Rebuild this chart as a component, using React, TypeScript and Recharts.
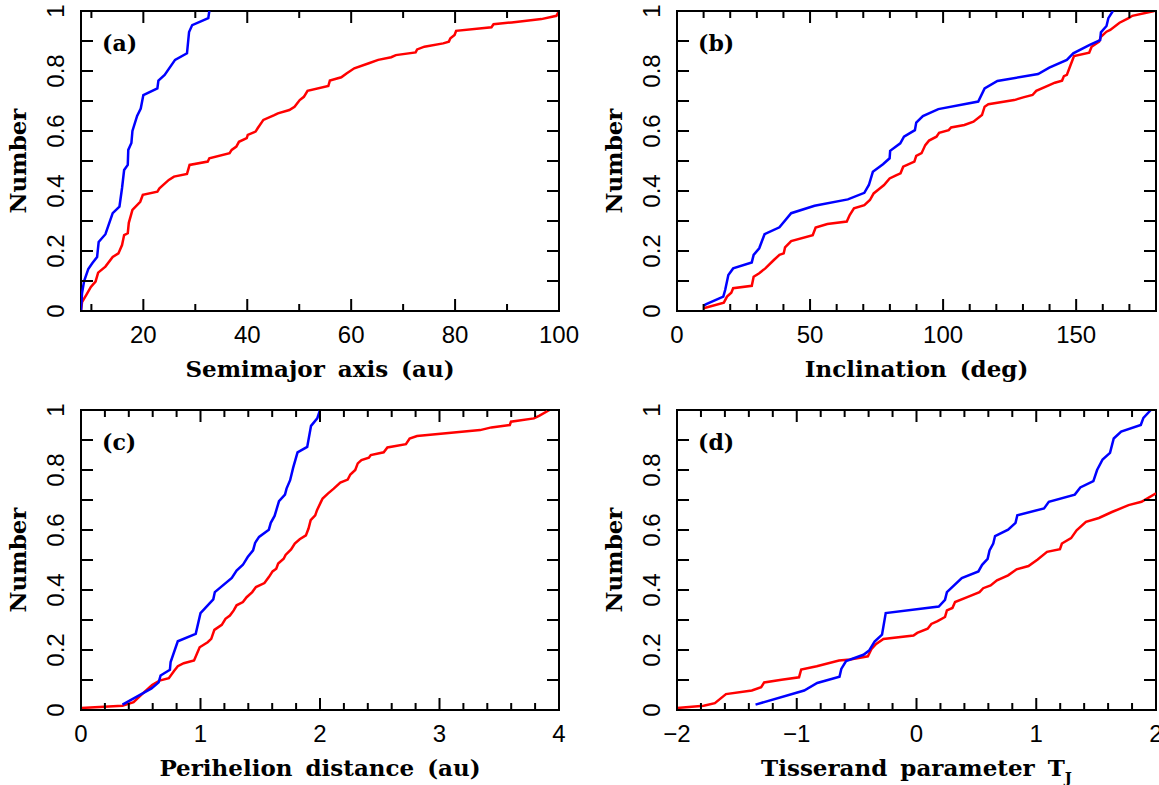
import { LineChart, Line, XAxis, YAxis, ReferenceArea } from 'recharts'

type Pt = [number, number]

// cumulative fractions, [x, fraction]
const semiBlue: Pt[] = [
  [8, 0], [8.2, 0.06], [8.6, 0.1], [9.4, 0.14], [10.2, 0.16], [11.1, 0.18], [11.4, 0.23],
  [12.7, 0.256], [14.1, 0.326], [15.4, 0.348], [15.9, 0.41], [16.3, 0.47], [17.0, 0.487],
  [17.1, 0.537], [17.7, 0.56], [17.9, 0.6], [18.8, 0.65], [19.5, 0.675], [20.0, 0.72],
  [22.7, 0.742], [22.9, 0.768], [24.1, 0.787], [26.1, 0.837], [28.4, 0.859], [28.8, 0.93],
  [29.4, 0.953], [32.5, 0.976], [32.7, 1],
]
const semiRed: Pt[] = [
  [8, 0], [8.2, 0.03], [9.0, 0.053], [9.9, 0.08], [10.8, 0.098], [11.3, 0.128], [12.7, 0.148],
  [14.1, 0.18], [15.2, 0.192], [15.9, 0.22], [16.3, 0.253], [17.0, 0.259], [17.2, 0.294],
  [17.9, 0.337], [19.4, 0.364], [19.9, 0.387], [22.7, 0.398], [23.1, 0.409], [24.9, 0.437],
  [25.9, 0.448], [28.4, 0.457], [28.9, 0.487], [32.4, 0.498], [32.7, 0.509], [36.6, 0.526],
  [37.0, 0.537], [37.9, 0.548], [38.4, 0.564], [39.9, 0.576], [40.1, 0.587], [41.6, 0.598],
  [42.0, 0.609], [43.1, 0.637], [45.2, 0.653], [45.9, 0.659], [48.1, 0.67], [49.1, 0.681],
  [50.1, 0.703], [50.9, 0.714], [51.6, 0.734], [55.6, 0.75], [55.9, 0.768], [58.1, 0.779],
  [59.1, 0.792], [60.6, 0.809], [63.4, 0.826], [65.2, 0.837], [67.7, 0.846], [68.6, 0.853],
  [72.4, 0.862], [72.7, 0.872], [74.1, 0.881], [77.7, 0.892], [78.8, 0.898], [79.1, 0.909],
  [79.9, 0.92], [80.2, 0.934], [87.0, 0.946], [87.4, 0.956], [90.9, 0.962], [96.6, 0.973],
  [99.5, 0.984], [100, 1],
]
const incBlue: Pt[] = [
  [10, 0.018], [11, 0.023], [17.4, 0.048], [18.1, 0.07], [19.3, 0.12], [21.1, 0.142],
  [28.1, 0.162], [28.8, 0.187], [30.9, 0.209], [32.9, 0.256], [38.5, 0.279], [42.9, 0.326],
  [51.7, 0.351], [64.2, 0.372], [70.4, 0.394], [72.1, 0.42], [73.6, 0.464], [77.4, 0.489],
  [79.9, 0.509], [80.1, 0.534], [83.9, 0.559], [85.3, 0.581], [89.4, 0.603], [89.9, 0.628],
  [92.4, 0.65], [98.2, 0.673], [113.2, 0.698], [115.6, 0.742], [120.4, 0.767], [135.7, 0.79],
  [139.9, 0.811], [146.5, 0.837], [148.9, 0.859], [155.1, 0.887], [159, 0.903], [159.3, 0.929],
  [161.4, 0.95], [162.1, 0.976], [163.8, 1],
]
const incRed: Pt[] = [
  [10, 0.009], [17.6, 0.028], [18.8, 0.048], [20.4, 0.061], [21.1, 0.076], [28.1, 0.084],
  [28.8, 0.114], [30.9, 0.126], [33.2, 0.142], [36.4, 0.17], [38.5, 0.187], [40.1, 0.192],
  [40.6, 0.212], [42.9, 0.233], [51, 0.253], [52.1, 0.278], [56.5, 0.29], [63.8, 0.298],
  [64.9, 0.32], [66.5, 0.342], [70.4, 0.353], [72.5, 0.37], [73.9, 0.392], [76.3, 0.409],
  [77.8, 0.42], [79.9, 0.442], [82.5, 0.453], [84, 0.459], [85, 0.481], [89.2, 0.498],
  [89.9, 0.517], [91.9, 0.526], [93.3, 0.553], [94.7, 0.568], [97.5, 0.581], [98.5, 0.594],
  [102.1, 0.603], [103, 0.612], [108, 0.62], [111.4, 0.631], [114.6, 0.653], [115.6, 0.681],
  [117, 0.689], [126.7, 0.703], [130.1, 0.712], [133.6, 0.72], [135, 0.734], [139.9, 0.753],
  [142, 0.761], [144.7, 0.768], [145.4, 0.783], [146.5, 0.787], [147.9, 0.82], [149.2, 0.85],
  [154.9, 0.861], [155.8, 0.881], [158.6, 0.898], [159.3, 0.914], [161.4, 0.931],
  [162.8, 0.937], [166.3, 0.961], [169.7, 0.976], [171.1, 0.984], [179.4, 1],
]
const periBlue: Pt[] = [
  [0.347, 0.018], [0.52, 0.056], [0.59, 0.072], [0.65, 0.092], [0.666, 0.115], [0.744, 0.134],
  [0.75, 0.16], [0.81, 0.229], [0.96, 0.254], [1.0, 0.323], [1.107, 0.369], [1.12, 0.393],
  [1.262, 0.44], [1.302, 0.465], [1.355, 0.484], [1.395, 0.51], [1.44, 0.532], [1.457, 0.557],
  [1.49, 0.577], [1.572, 0.601], [1.588, 0.624], [1.62, 0.647], [1.657, 0.696], [1.707, 0.718],
  [1.72, 0.738], [1.75, 0.766], [1.775, 0.807], [1.812, 0.859], [1.893, 0.877], [1.925, 0.947],
  [1.977, 0.972], [2.0, 1],
]
const periRed: Pt[] = [
  [0, 0.007], [0.347, 0.014], [0.44, 0.026], [0.52, 0.056], [0.595, 0.083], [0.657, 0.098],
  [0.735, 0.106], [0.78, 0.131], [0.81, 0.146], [0.86, 0.156], [0.946, 0.165], [0.993, 0.209],
  [1.06, 0.226], [1.09, 0.237], [1.116, 0.267], [1.178, 0.284], [1.209, 0.304], [1.246, 0.315],
  [1.278, 0.332], [1.302, 0.349], [1.355, 0.36], [1.386, 0.376], [1.433, 0.393], [1.464, 0.41],
  [1.535, 0.423], [1.572, 0.443], [1.603, 0.462], [1.634, 0.471], [1.65, 0.488], [1.696, 0.504],
  [1.712, 0.517], [1.758, 0.535], [1.789, 0.555], [1.83, 0.569], [1.882, 0.582], [1.904, 0.605],
  [1.922, 0.633], [1.96, 0.649], [1.975, 0.666], [2.006, 0.692], [2.022, 0.705], [2.068, 0.722],
  [2.115, 0.738], [2.17, 0.758], [2.232, 0.768], [2.254, 0.785], [2.295, 0.8], [2.316, 0.822],
  [2.347, 0.833], [2.409, 0.841], [2.425, 0.85], [2.533, 0.859], [2.564, 0.875], [2.719, 0.886],
  [2.75, 0.905], [2.812, 0.913], [3.34, 0.933], [3.434, 0.942], [3.588, 0.95], [3.598, 0.961],
  [3.79, 0.972], [3.837, 0.981], [3.92, 1],
]
const tissBlue: Pt[] = [
  [-1.344, 0.018], [-0.938, 0.065], [-0.829, 0.09], [-0.643, 0.111], [-0.628, 0.137],
  [-0.588, 0.163], [-0.443, 0.184], [-0.396, 0.198], [-0.35, 0.228], [-0.288, 0.251],
  [-0.257, 0.323], [0.186, 0.345], [0.238, 0.367], [0.254, 0.393], [0.378, 0.44], [0.517, 0.462],
  [0.548, 0.484], [0.594, 0.504], [0.61, 0.532], [0.641, 0.555], [0.656, 0.58], [0.765, 0.601],
  [0.827, 0.624], [0.842, 0.649], [1.065, 0.672], [1.105, 0.694], [1.322, 0.718], [1.368, 0.742],
  [1.477, 0.763], [1.508, 0.8], [1.554, 0.835], [1.616, 0.857], [1.647, 0.905], [1.709, 0.928],
  [1.873, 0.95], [1.895, 0.974], [1.957, 1],
]
const tissRed: Pt[] = [
  [-2, 0.007], [-1.777, 0.014], [-1.684, 0.023], [-1.591, 0.053], [-1.375, 0.065],
  [-1.297, 0.076], [-1.272, 0.092], [-1.127, 0.101], [-0.981, 0.109], [-0.963, 0.135],
  [-0.833, 0.146], [-0.647, 0.165], [-0.554, 0.168], [-0.406, 0.179], [-0.375, 0.204],
  [-0.337, 0.22], [-0.276, 0.237], [-0.025, 0.248], [0.006, 0.257], [0.093, 0.271],
  [0.124, 0.287], [0.176, 0.296], [0.238, 0.31], [0.254, 0.332], [0.3, 0.34], [0.322, 0.36],
  [0.424, 0.376], [0.526, 0.393], [0.557, 0.406], [0.619, 0.415], [0.672, 0.432], [0.765, 0.449],
  [0.836, 0.469], [0.935, 0.48], [1.012, 0.502], [1.09, 0.527], [1.198, 0.536], [1.214, 0.555],
  [1.291, 0.573], [1.337, 0.599], [1.415, 0.627], [1.523, 0.64], [1.632, 0.66], [1.771, 0.683],
  [1.879, 0.694], [2.0, 0.722],
]

// ticks and their labels
const fracTicks = [0, 0.1, 0.2, 0.3, 0.4, 0.5, 0.6, 0.7, 0.8, 0.9, 1]
const fracLabels: Record<string, string> = { '0': '0', '0.2': '0.2', '0.4': '0.4', '0.6': '0.6', '0.8': '0.8', '1': '1' }
const semiTicks = [10, 20, 30, 40, 50, 60, 70, 80, 90, 100]
const semiLabels: Record<string, string> = { '20': '20', '40': '40', '60': '60', '80': '80', '100': '100' }
const incTicks = [0, 10, 20, 30, 40, 50, 60, 70, 80, 90, 100, 110, 120, 130, 140, 150, 160, 170, 180]
const incLabels: Record<string, string> = { '0': '0', '50': '50', '100': '100', '150': '150' }
const periTicks = [0, 0.2, 0.4, 0.6, 0.8, 1, 1.2, 1.4, 1.6, 1.8, 2, 2.2, 2.4, 2.6, 2.8, 3, 3.2, 3.4, 3.6, 3.8, 4]
const periLabels: Record<string, string> = { '0': '0', '1': '1', '2': '2', '3': '3', '4': '4' }
const tissTicks = [-2, -1.8, -1.6, -1.4, -1.2, -1, -0.8, -0.6, -0.4, -0.2, 0, 0.2, 0.4, 0.6, 0.8, 1, 1.2, 1.4, 1.6, 1.8, 2]
const tissLabels: Record<string, string> = { '-2': '\u22122', '-1': '\u22121', '0': '0', '1': '1', '2': '2' }

const toRows = (pts: Pt[]) => pts.map(([x, y]) => ({ x, y }))

const TICK_FONT = 'Liberation Sans, Arial, sans-serif'
const TITLE_FONT = 'DejaVu Serif, serif'

type PanelProps = {
  left: number
  top: number
  width: number
  height: number
  plotLeft: number
  plotTop: number
  plotW: number
  plotH: number
  xDomain: [number, number]
  xTicks: number[]
  xLabels: Record<string, string>
  blue: Pt[]
  red: Pt[]
  tag: string
  title: React.ReactNode
}

function Panel(p: PanelProps) {
  const { plotLeft, plotTop, plotW, plotH, width, height } = p
  const [d0, d1] = p.xDomain
  // same linear mapping as the chart, for the inward frame ticks
  const sx = (v: number) => plotLeft + ((v - d0) / (d1 - d0)) * plotW
  const sy = (v: number) => plotTop + plotH - v * plotH
  const bottom = plotTop + plotH
  let tickPath = ''
  p.xTicks.forEach((v) => {
    const len = p.xLabels[String(v)] !== undefined ? 12 : 7
    const x = sx(v)
    tickPath += `M${x},${bottom}V${bottom - len}M${x},${plotTop}V${plotTop + len}`
  })
  fracTicks.forEach((v) => {
    const y = sy(v)
    tickPath += `M${plotLeft},${y}H${plotLeft + 12}M${plotLeft + plotW},${y}H${plotLeft + plotW - 12}`
  })

  const xTick = (t: any) => {
    const lab = p.xLabels[String(t.payload.value)]
    if (lab === undefined) return <g />
    return (
      <text x={t.x} y={t.y + 32} textAnchor="middle" fontFamily={TICK_FONT} fontSize={24} fill="#000">
        {lab}
      </text>
    )
  }
  const yTick = (t: any) => {
    const lab = fracLabels[String(t.payload.value)]
    if (lab === undefined) return <g />
    return (
      <text
        x={0}
        y={0}
        transform={`translate(${t.x - 17},${t.y}) rotate(-90)`}
        textAnchor="middle"
        fontFamily={TICK_FONT}
        fontSize={24}
        fill="#000"
      >
        {lab}
      </text>
    )
  }

  return (
    <div style={{ position: 'absolute', left: p.left, top: p.top, width, height }}>
      <LineChart width={width} height={height} margin={{ top: plotTop, right: width - plotLeft - plotW, bottom: 0, left: 0 }}>
        <XAxis
          type="number"
          dataKey="x"
          domain={p.xDomain}
          allowDataOverflow
          ticks={p.xTicks}
          interval={0}
          height={height - plotTop - plotH}
          tickSize={0}
          tickMargin={0}
          axisLine={false}
          tickLine={false}
          tick={xTick}
        />
        <YAxis
          type="number"
          dataKey="y"
          domain={[0, 1]}
          allowDataOverflow
          ticks={fracTicks}
          interval={0}
          width={plotLeft}
          tickSize={0}
          tickMargin={0}
          axisLine={false}
          tickLine={false}
          tick={yTick}
        />
        <ReferenceArea x1={d0} x2={d1} y1={0} y2={1} fill="none" stroke="#000" strokeWidth={2} />
        <Line data={toRows(p.red)} dataKey="y" type="linear" stroke="#ff0000" strokeWidth={2.5} dot={false} isAnimationActive={false} />
        <Line data={toRows(p.blue)} dataKey="y" type="linear" stroke="#0000ff" strokeWidth={2.5} dot={false} isAnimationActive={false} />
      </LineChart>
      <svg width={width} height={height} style={{ position: 'absolute', left: 0, top: 0, pointerEvents: 'none' }}>
        <path d={tickPath} stroke="#000" strokeWidth={2} fill="none" />
        <text x={plotLeft + 21} y={plotTop + 40} fontFamily={TITLE_FONT} fontWeight="bold" fontSize={22} fill="#000">
          {p.tag}
        </text>
        <text
          x={0}
          y={0}
          transform={`translate(${plotLeft - 55},${plotTop + plotH / 2}) rotate(-90)`}
          textAnchor="middle"
          fontFamily={TITLE_FONT}
          fontWeight="bold"
          fontSize={23}
          fill="#000"
        >
          Number
        </text>
        <text
          x={plotLeft + plotW / 2}
          y={plotTop + plotH + 66}
          textAnchor="middle"
          fontFamily={TITLE_FONT}
          fontWeight="bold"
          fontSize={23}
          wordSpacing={5}
          fill="#000"
        >
          {p.title}
        </text>
      </svg>
    </div>
  )
}

export default function App() {
  return (
    <div style={{ position: 'relative', width: 1159, height: 785, background: '#fff' }}>
      <style>{'body{margin:0}'}</style>
      <Panel
        left={0} top={0} width={580} height={395}
        plotLeft={81} plotTop={11} plotW={478} plotH={300}
        xDomain={[8, 100]} xTicks={semiTicks} xLabels={semiLabels}
        blue={semiBlue} red={semiRed} tag="(a)" title="Semimajor axis (au)"
      />
      <Panel
        left={580} top={0} width={579} height={395}
        plotLeft={97} plotTop={11} plotW={479} plotH={300}
        xDomain={[0, 180]} xTicks={incTicks} xLabels={incLabels}
        blue={incBlue} red={incRed} tag="(b)" title="Inclination (deg)"
      />
      <Panel
        left={0} top={395} width={580} height={390}
        plotLeft={81} plotTop={15} plotW={478} plotH={300}
        xDomain={[0, 4]} xTicks={periTicks} xLabels={periLabels}
        blue={periBlue} red={periRed} tag="(c)" title="Perihelion distance (au)"
      />
      <Panel
        left={580} top={395} width={579} height={390}
        plotLeft={97} plotTop={15} plotW={479} plotH={300}
        xDomain={[-2, 2]} xTicks={tissTicks} xLabels={tissLabels}
        blue={tissBlue} red={tissRed} tag="(d)"
        title={
          <>
            <tspan>Tisserand parameter T</tspan>
            <tspan dy={7} fontSize={15}>J</tspan>
          </>
        }
      />
    </div>
  )
}
